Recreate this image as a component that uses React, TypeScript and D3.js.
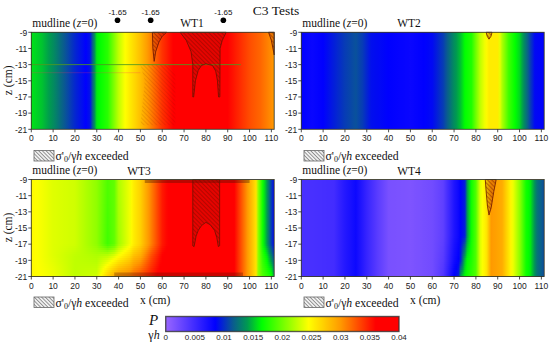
import React from "react";
import * as d3 from "d3";

// ---------- DATA ----------
const colorDomain = [0, 0.0085, 0.0115, 0.014, 0.0165, 0.0245, 0.03, 0.036, 0.04];
const colorRange = ["#9966ff", "#0000ff", "#0a5a90", "#009a50", "#00ff00", "#ffff00", "#ff9900", "#ff0000", "#ff0000"];
const colorTicks = [0, 0.005, 0.01, 0.015, 0.02, 0.025, 0.03, 0.035, 0.04];
const xTicks = [0, 10, 20, 30, 40, 50, 60, 70, 80, 90, 100, 110];
const zTicks = [-9, -11, -13, -15, -17, -19, -21];

const wt1X = [0, 5, 10, 15, 20, 25, 27, 30, 35, 40, 43, 50, 55, 60, 65, 70, 90, 95, 100, 105, 111.3];
const wt1Z = [-9, -21];
const wt1Row = [0.0158, 0.015, 0.0135, 0.0115, 0.0098, 0.0085, 0.0092, 0.016, 0.0178, 0.0225, 0.0245, 0.028, 0.031, 0.034, 0.036, 0.038, 0.036, 0.0345, 0.033, 0.032, 0.03];
const wt1Rows = [wt1Row, wt1Row];

const wt2X = [0, 5, 10, 15, 20, 25, 28, 32, 40, 50, 60, 65, 70, 73, 75, 78, 80, 82, 84, 86, 90, 92, 95, 98, 100, 103, 105, 107, 111.3];
const wt2Z = [-9, -21];
const wt2Row = [0.0085, 0.008, 0.0085, 0.0095, 0.0105, 0.0112, 0.0105, 0.009, 0.0085, 0.008, 0.0088, 0.0105, 0.0135, 0.015, 0.0165, 0.0175, 0.02, 0.0225, 0.024, 0.0255, 0.0255, 0.022, 0.0185, 0.0165, 0.0155, 0.0125, 0.0105, 0.0088, 0.0085];
const wt2Rows = [wt2Row, wt2Row];

const wt3X = [0, 10, 20, 30, 35, 38, 40, 45, 47, 50, 55, 60, 65, 92, 95, 100, 103, 104, 106, 108, 110, 111.3];
const wt3Z = [-9, -17, -18.5, -21];
const wt3Rows = [
  [0.0248, 0.0235, 0.023, 0.021, 0.019, 0.0195, 0.022, 0.024, 0.0255, 0.027, 0.031, 0.035, 0.037, 0.037, 0.034, 0.029, 0.026, 0.021, 0.017, 0.014, 0.0105, 0.0085],
  [0.0248, 0.0235, 0.023, 0.021, 0.0185, 0.0195, 0.0215, 0.024, 0.0255, 0.027, 0.031, 0.035, 0.037, 0.037, 0.034, 0.029, 0.026, 0.021, 0.017, 0.014, 0.0105, 0.0085],
  [0.0248, 0.0235, 0.0225, 0.022, 0.0225, 0.0235, 0.0245, 0.0265, 0.028, 0.029, 0.033, 0.036, 0.037, 0.037, 0.034, 0.029, 0.026, 0.021, 0.018, 0.016, 0.013, 0.0105],
  [0.0248, 0.024, 0.0225, 0.023, 0.027, 0.029, 0.03, 0.031, 0.032, 0.033, 0.035, 0.037, 0.037, 0.037, 0.034, 0.029, 0.026, 0.021, 0.019, 0.018, 0.017, 0.0145],
];

const wt4X = [0, 5, 15, 20, 25, 30, 35, 40, 50, 60, 65, 70, 72, 73, 75, 76, 78, 80, 82, 85, 87, 92, 95, 97, 100, 103, 105, 108, 111.3];
const wt4Z = [-9, -16, -19, -21];
const wt4Rows = [
  [0.0045, 0.0045, 0.0048, 0.0065, 0.0078, 0.0055, 0.0035, 0.0018, 0.0015, 0.0022, 0.0032, 0.0068, 0.0078, 0.0085, 0.0095, 0.014, 0.017, 0.019, 0.0235, 0.026, 0.03, 0.029, 0.026, 0.024, 0.021, 0.017, 0.016, 0.0125, 0.011],
  [0.0045, 0.0045, 0.0048, 0.0065, 0.0078, 0.0055, 0.0035, 0.0018, 0.0015, 0.0022, 0.0032, 0.0068, 0.0078, 0.0085, 0.0095, 0.014, 0.017, 0.019, 0.0235, 0.026, 0.03, 0.029, 0.026, 0.024, 0.021, 0.017, 0.016, 0.0125, 0.011],
  [0.0045, 0.0045, 0.0048, 0.0065, 0.0078, 0.0055, 0.0035, 0.0018, 0.0015, 0.0022, 0.0036, 0.0075, 0.0085, 0.0095, 0.015, 0.0165, 0.0175, 0.019, 0.0235, 0.026, 0.03, 0.029, 0.026, 0.024, 0.021, 0.017, 0.016, 0.0125, 0.011],
  [0.0045, 0.0045, 0.0048, 0.0065, 0.0078, 0.0055, 0.0035, 0.0018, 0.0015, 0.0022, 0.004, 0.0085, 0.0095, 0.014, 0.0165, 0.017, 0.018, 0.019, 0.0235, 0.026, 0.03, 0.029, 0.026, 0.024, 0.021, 0.017, 0.016, 0.0125, 0.011],
];

const hatchA1: [number, number][] = [[55.5, -9], [55.7, -11], [56.3, -12.6], [57, -11.4], [58.5, -10.2], [60, -9.5], [62, -9]];
const hatchB1: [number, number][] = [[68.2, -9], [71, -10], [73.2, -11.4], [74, -13], [74, -17], [74.4, -17], [75.2, -15], [76.5, -13.7], [78, -13.1], [80, -12.9], [83, -13.1], [84.5, -13.8], [85.3, -15], [85.8, -17], [86.4, -17], [86.5, -11], [87.5, -10], [89.3, -9]];
const hatchC1: [number, number][] = [[108.7, -9], [110, -10], [111.3, -11.8], [111.3, -9]];
const hatch2: [number, number][] = [[84.7, -9], [85.2, -9.5], [86, -9.85], [86.9, -9.5], [87.4, -9]];
const hatch3: [number, number][] = [[74, -9], [74, -17.2], [74.6, -17.3], [75.5, -16], [76.5, -15.3], [78, -14.7], [80, -14.3], [82, -14.6], [84, -15.3], [85, -16.2], [85.7, -17.3], [86.3, -17.2], [86.3, -9]];
const hatch4: [number, number][] = [[84.3, -9], [84.7, -10.5], [85.3, -12.3], [86, -13.4], [87, -12.5], [88.2, -10.5], [89.3, -9]];
const ghost1: [number, number][] = [[50, -13], [63, -13], [66, -14], [66, -20.5], [50, -20.5], [52, -15]];

const markerXs = [39.5, 54.7, 88];
const markerLabels = ["-1.65", "-1.65", "-1.65"];

// ---------- SCALES ----------
const color = d3.scaleLinear<string>().domain(colorDomain).range(colorRange).interpolate(d3.interpolateRgb);
const SERIF = "'Liberation Serif', serif";
const SANS = "'Liberation Sans', sans-serif";
const samples = d3.range(0, 111.3, 1).concat([111.3]);

type Panel = {
  id: string; name: string; left: number; top: number; nameX: number;
  xs: number[]; zs: number[]; rows: number[][]; hatches: [number, number][][];
};
const W = 242.9, H = 97;
const panels: Panel[] = [
  { id: "p1", name: "WT1", left: 31.3, top: 32.3, nameX: 192, xs: wt1X, zs: wt1Z, rows: wt1Rows, hatches: [hatchA1, hatchB1, hatchC1] },
  { id: "p2", name: "WT2", left: 301.3, top: 32.3, nameX: 409, xs: wt2X, zs: wt2Z, rows: wt2Rows, hatches: [hatch2] },
  { id: "p3", name: "WT3", left: 31.3, top: 179.5, nameX: 139, xs: wt3X, zs: wt3Z, rows: wt3Rows, hatches: [hatch3] },
  { id: "p4", name: "WT4", left: 301.3, top: 179.5, nameX: 409, xs: wt4X, zs: wt4Z, rows: wt4Rows, hatches: [hatch4] },
];

function Heat({ p }: { p: Panel }) {
  const x = d3.scaleLinear().domain([0, 111.3]).range([p.left, p.left + W]);
  const z = d3.scaleLinear().domain([-9, -21]).range([p.top, p.top + H]);
  const rowScales = p.rows.map((r) => d3.scaleLinear().domain(p.xs).range(r));
  const flat = p.rows.every((r) => r === p.rows[0]);
  const bandZs = flat ? [-9] : d3.range(-9, -21, -0.25);
  const dz = flat ? 12 : 0.25;
  const line = d3.line<[number, number]>().x((d) => x(d[0])).y((d) => z(d[1])).curve(d3.curveLinear);
  return (
    <g>
      <defs>
        {bandZs.map((zv, i) => (
          <linearGradient key={i} id={`${p.id}-g${i}`} x1="0" x2="1" y1="0" y2="0">
            {samples.map((s) => {
              const vals = rowScales.map((r) => r(s));
              const v = d3.scaleLinear().domain(p.zs).range(vals)(zv + (flat ? 0 : -0.125));
              return <stop key={s} offset={s / 111.3} stopColor={color(v)} />;
            })}
          </linearGradient>
        ))}
      </defs>
      {bandZs.map((zv, i) => {
        const y0 = Math.round(z(zv));
        const y1 = Math.round(z(zv - dz));
        return <rect key={i} x={p.left} y={y0} width={W} height={y1 - y0} fill={`url(#${p.id}-g${i})`} shapeRendering="crispEdges" />;
      })}
      {p.id === "p1" && (
        <g>
          <path d={line(ghost1) + "Z"} fill="url(#hatch)" opacity={0.3} />
          <line x1={x(0)} x2={x(96)} y1={z(-13)} y2={z(-13)} stroke="#4f9a20" strokeWidth={1} opacity={0.85} />
          <line x1={x(0)} x2={x(50)} y1={z(-14)} y2={z(-14)} stroke="#ff3060" strokeWidth={0.8} opacity={0.3} />
        </g>
      )}
      {p.id === "p3" && (
        <g>
          <rect x={x(52)} y={p.top} width={x(100) - x(52)} height={3.5} fill="#401000" opacity={0.35} />
          <rect x={x(38)} y={p.top + H - 4} width={x(97) - x(38)} height={4} fill="#401000" opacity={0.28} />
        </g>
      )}
      {p.hatches.map((h, i) => (
        <g key={i}>
          <path d={line(h) + "Z"} fill="#8a1000" opacity={0.22} />
          <path d={line(h) + "Z"} fill="url(#hatch)" stroke="#6a1400" strokeWidth={0.8} />
        </g>
      ))}
      <rect x={p.left} y={p.top} width={W} height={H} fill="none" stroke="#3a3a2a" strokeWidth={0.9} />
      {zTicks.map((t) => (
        <g key={t}>
          <line x1={p.left - 3} x2={p.left} y1={z(t)} y2={z(t)} stroke="#222" strokeWidth={0.8} />
          <text x={p.left - 4} y={z(t) + 3.2} textAnchor="end" fontFamily={SANS} fontSize={8.5} fill="#222">{t}</text>
        </g>
      ))}
      {xTicks.map((t) => (
        <g key={t}>
          <line x1={x(t)} x2={x(t)} y1={p.top + H} y2={p.top + H + 3} stroke="#222" strokeWidth={0.8} />
          <text x={x(t)} y={p.top + H + 12} textAnchor="middle" fontFamily={SANS} fontSize={8.5} fill="#222">{t}</text>
        </g>
      ))}
      <text x={p.left + 1} y={p.top - 5.5} fontFamily={SERIF} fontSize={11.5} fill="#111">
        mudline (<tspan fontStyle="italic">z</tspan>=0)
      </text>
      <text x={p.nameX} y={p.top - 5} textAnchor="middle" fontFamily={SERIF} fontSize={11.5} fill="#111">{p.name}</text>
      {p.left < 100 && (
        <text transform={`translate(12,${p.top + H / 2 - 0.5}) rotate(-90)`} textAnchor="middle" fontFamily={SERIF} fontSize={11.5} fill="#111">
          z (cm)
        </text>
      )}
    </g>
  );
}

function Exceeded({ x, y }: { x: number; y: number }) {
  return (
    <g>
      <rect x={x} y={y} width={20} height={10.5} fill="url(#hatchGray)" stroke="#666" strokeWidth={0.8} />
      <text x={x + 21.5} y={y + 9.5} fontFamily={SERIF} fontSize={11.7} fill="#111">
        σ'<tspan fontSize={8} dy={2}>0</tspan><tspan dy={-2}>/γ</tspan><tspan fontStyle="italic">h</tspan> exceeded
      </text>
    </g>
  );
}

export default function App() {
  const cx = d3.scaleLinear().domain([0, 0.04]).range([165.7, 399]);
  const mx = d3.scaleLinear().domain([0, 111.3]).range([31.3, 31.3 + W]);
  const barSamples = d3.range(0, 0.0401, 0.0005);
  return (
    <svg width={550} height={345} style={{ position: "absolute", left: 0, top: 0, background: "#fff" }}>
      <defs>
        <pattern id="hatch" width={3} height={3} patternUnits="userSpaceOnUse" patternTransform="rotate(45)">
          <line x1={0} x2={3} y1={1.5} y2={1.5} stroke="#6a0a00" strokeWidth={0.8} opacity={0.5} />
        </pattern>
        <pattern id="hatchGray" width={2.6} height={2.6} patternUnits="userSpaceOnUse" patternTransform="rotate(45)">
          <rect width={2.6} height={2.6} fill="#f0f0f0" />
          <line x1={0} x2={2.6} y1={1.3} y2={1.3} stroke="#777" strokeWidth={0.75} />
        </pattern>
        <linearGradient id="barGrad" x1="0" x2="1" y1="0" y2="0">
          {barSamples.map((v) => <stop key={v} offset={v / 0.04} stopColor={color(v)} />)}
        </linearGradient>
      </defs>
      <text x={276} y={14.5} textAnchor="middle" fontFamily={SERIF} fontSize={13.5} fill="#111">C3 Tests</text>
      {markerXs.map((m, i) => (
        <g key={i}>
          <circle cx={mx(m)} cy={20.3} r={2.8} fill="#000" />
          <text x={mx(m)} y={15} textAnchor="middle" fontFamily={SANS} fontSize={8} fill="#111">{markerLabels[i]}</text>
        </g>
      ))}
      {panels.map((p) => <Heat key={p.id} p={p} />)}
      <Exceeded x={34} y={150.5} />
      <Exceeded x={304} y={150.5} />
      <Exceeded x={34} y={297} />
      <Exceeded x={304} y={297} />
      <text x={140} y={304} fontFamily={SERIF} fontSize={11.5} fill="#111">x (cm)</text>
      <text x={410} y={304} fontFamily={SERIF} fontSize={11.5} fill="#111">x (cm)</text>

      <text x={153.5} y={325} textAnchor="middle" fontFamily={SERIF} fontStyle="italic" fontSize={15} fill="#111">P</text>
      <text x={154} y={339} textAnchor="middle" fontFamily={SERIF} fontSize={12} fill="#111">γ<tspan fontStyle="italic">h</tspan></text>
      <rect x={cx(0)} y={316.5} width={cx(0.04) - cx(0)} height={15} fill="url(#barGrad)" stroke="#333" strokeWidth={1.4} strokeOpacity={0.8} />
      {colorTicks.map((t) => (
        <text key={t} x={cx(t)} y={340} textAnchor="middle" fontFamily={SANS} fontSize={8} fill="#222">{t}</text>
      ))}
    </svg>
  );
}
